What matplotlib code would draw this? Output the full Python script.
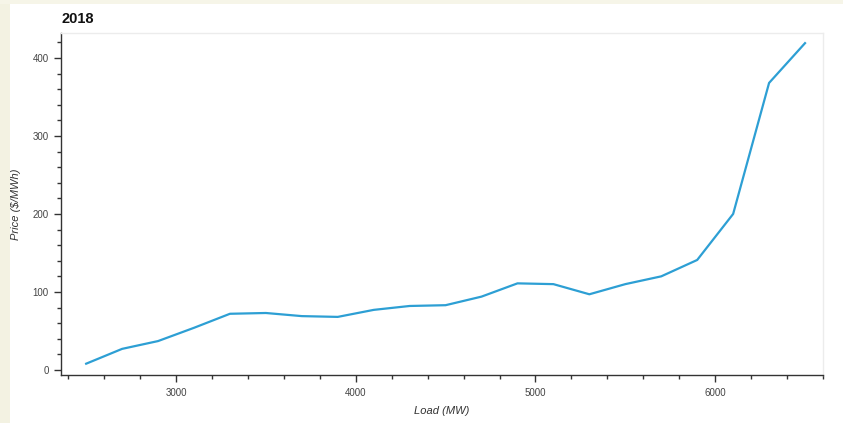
import matplotlib
matplotlib.use("Agg")
import matplotlib.pyplot as plt
from matplotlib.ticker import MultipleLocator
from matplotlib.patches import Rectangle

load_mw = [2500, 2700, 2900, 3100, 3300, 3500, 3700, 3900, 4100, 4300, 4500,
           4700, 4900, 5100, 5300, 5500, 5700, 5900, 6100, 6300, 6500]
price = [8, 27, 37, 54, 72, 73, 69, 68, 77, 82, 83,
         94, 111, 110, 97, 110, 120, 141, 200, 368, 419]

title = "2018"
xlabel = "Load (MW)"
ylabel = "Price ($/MWh)"

plt.rcParams['font.family'] = ['Liberation Sans', 'DejaVu Sans']

fig = plt.figure(figsize=(8.43, 4.23), dpi=100)
fig.patch.set_facecolor('white')
# cream margins at the left and top edges
fig.patches.append(Rectangle((0, 0), 10 / 843, 1, transform=fig.transFigure,
                             facecolor='#f3f2e2', edgecolor='none', zorder=0))
fig.patches.append(Rectangle((0, 1 - 4 / 423), 1, 4 / 423, transform=fig.transFigure,
                             facecolor='#f6f5e8', edgecolor='none', zorder=0))

ax = fig.add_axes([61 / 843, 48 / 423, (823 - 61) / 843, (375 - 33) / 423])
ax.plot(load_mw, price, color='#2d9fd4', linewidth=1.6)

ax.set_xlim(2360, 6600)
ax.set_ylim(-6.5, 432)

ax.xaxis.set_major_locator(MultipleLocator(1000))
ax.xaxis.set_minor_locator(MultipleLocator(200))
ax.yaxis.set_major_locator(MultipleLocator(100))
ax.yaxis.set_minor_locator(MultipleLocator(20))

for s in ['top', 'right']:
    ax.spines[s].set_color('#ececec')
    ax.spines[s].set_linewidth(1.0)
for s in ['left', 'bottom']:
    ax.spines[s].set_color('#333333')
    ax.spines[s].set_linewidth(1.0)

ax.tick_params(axis='both', which='major', direction='out', length=5, width=1,
               color='#333333', labelsize=7, labelcolor='#444444', pad=4)
ax.tick_params(axis='both', which='minor', direction='out', length=3, width=1,
               color='#333333')

ax.set_title(title, loc='left', fontsize=10.5, fontweight='bold', pad=7, color='#111111')
ax.set_xlabel(xlabel, fontsize=8, style='italic', color='#333333', labelpad=6)
ax.set_ylabel(ylabel, fontsize=8, style='italic', color='#333333', labelpad=8)

fig.savefig("out.png", dpi=100, facecolor=fig.get_facecolor())
